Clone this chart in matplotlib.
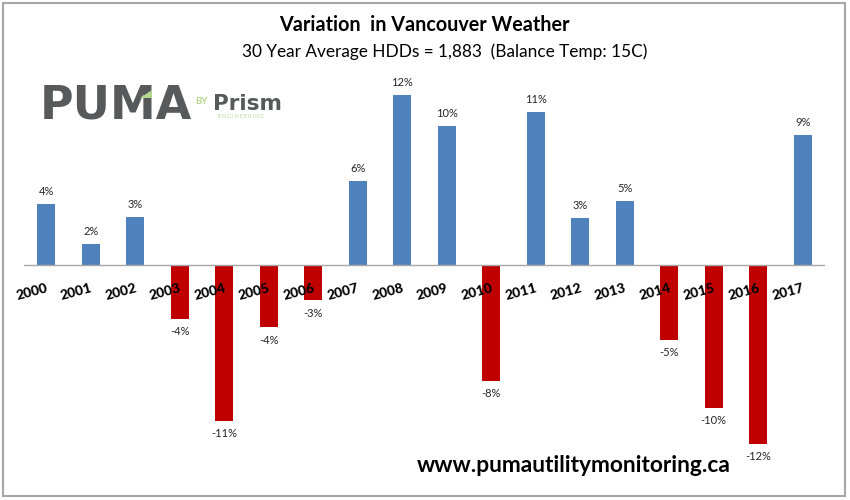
import matplotlib
matplotlib.use("Agg")
from matplotlib import pyplot as plt
from matplotlib.patches import Polygon, Rectangle

plt.rcParams['font.family'] = ['Lato', 'DejaVu Sans']

W, H = 850, 500

years = ['2000', '2001', '2002', '2003', '2004', '2005', '2006', '2007', '2008',
         '2009', '2010', '2011', '2012', '2013', '2014', '2015', '2016', '2017']
variation = [4.3, 1.5, 3.4, -3.8, -11.0, -4.4, -2.5, 5.9, 12.0,
             9.8, -8.2, 10.8, 3.3, 4.5, -5.3, -10.1, -12.6, 9.2]
labels = ['4%', '2%', '3%', '-4%', '-11%', '-4%', '-3%', '6%', '12%',
          '10%', '-8%', '11%', '3%', '5%', '-5%', '-10%', '-12%', '9%']

BLUE = '#4f81bd'
RED = '#c00000'
GREY = '#58595b'
GREEN = '#b5d68f'


def fx(px):
    return px / W


def fy(px):
    return 1 - px / H


fig = plt.figure(figsize=(W / 100, H / 100), dpi=100, facecolor='white')

# plot area: zero line sits at y=265px, 14.17px per percent
ax = fig.add_axes([fx(24), fy(470), fx(801), (470 - 70) / H])
ax.set_xlim(-0.5, 17.5)
ax.set_ylim(-(470 - 265) / 14.17, (265 - 70) / 14.17)
ax.axis('off')

colors = [BLUE if v > 0 else RED for v in variation]
ax.bar(range(len(years)), variation, width=0.41, color=colors, zorder=2)
ax.axhline(0, color='#a6a6a6', lw=1, zorder=3)

for i, v in enumerate(variation):
    off = 0.88 if v > 0 else -0.9
    ax.text(i, v + off, labels[i], ha='center', va='center', fontsize=8, color='#262626', zorder=4)
    ax.annotate(years[i], (i, 0), xytext=(-10.5, -19.5), textcoords='offset points', ha='center', va='center',
                rotation=15, fontsize=10, fontweight='black', color='black', zorder=4)

fig.text(fx(424), fy(25), 'Variation  in Vancouver Weather', ha='center', va='center',
         fontsize=14.2, fontweight='bold', color='black')
fig.text(fx(445), fy(52), '30 Year Average HDDs = 1,883  (Balance Temp: 15C)', ha='center', va='center',
         fontsize=12.4, color='black')
fig.text(fx(574), fy(466), 'www.pumautilitymonitoring.ca', ha='center', va='center',
         fontsize=16.4, fontweight='bold', color='black')

# logo
fig.text(fx(40), fy(106), 'PUMA', ha='left', va='center', fontsize=33, fontweight='bold',
         family=['DejaVu Sans'], color=GREY)
fig.add_artist(Polygon([[fx(140), fy(98)], [fx(152), fy(90)], [fx(152), fy(98)]],
                       transform=fig.transFigure, facecolor=GREEN, edgecolor='none', zorder=5))
fig.text(fx(195), fy(102), 'BY', ha='left', va='center', fontsize=7, fontweight='bold', color=GREEN)
fig.text(fx(213), fy(104), 'Prism', ha='left', va='center', fontsize=15.5, fontweight='bold',
         family=['DejaVu Sans'], color=GREY)
fig.text(fx(218), fy(116), 'E N G I N E E R I N G', ha='left', va='center', fontsize=3.6, color=GREEN)

# image border
fig.add_artist(Rectangle((fx(3), fy(496)), fx(842), 493 / H, transform=fig.transFigure,
                         fill=False, edgecolor='#a6a6a6', lw=1.5))

fig.savefig('out.png', dpi=100)
